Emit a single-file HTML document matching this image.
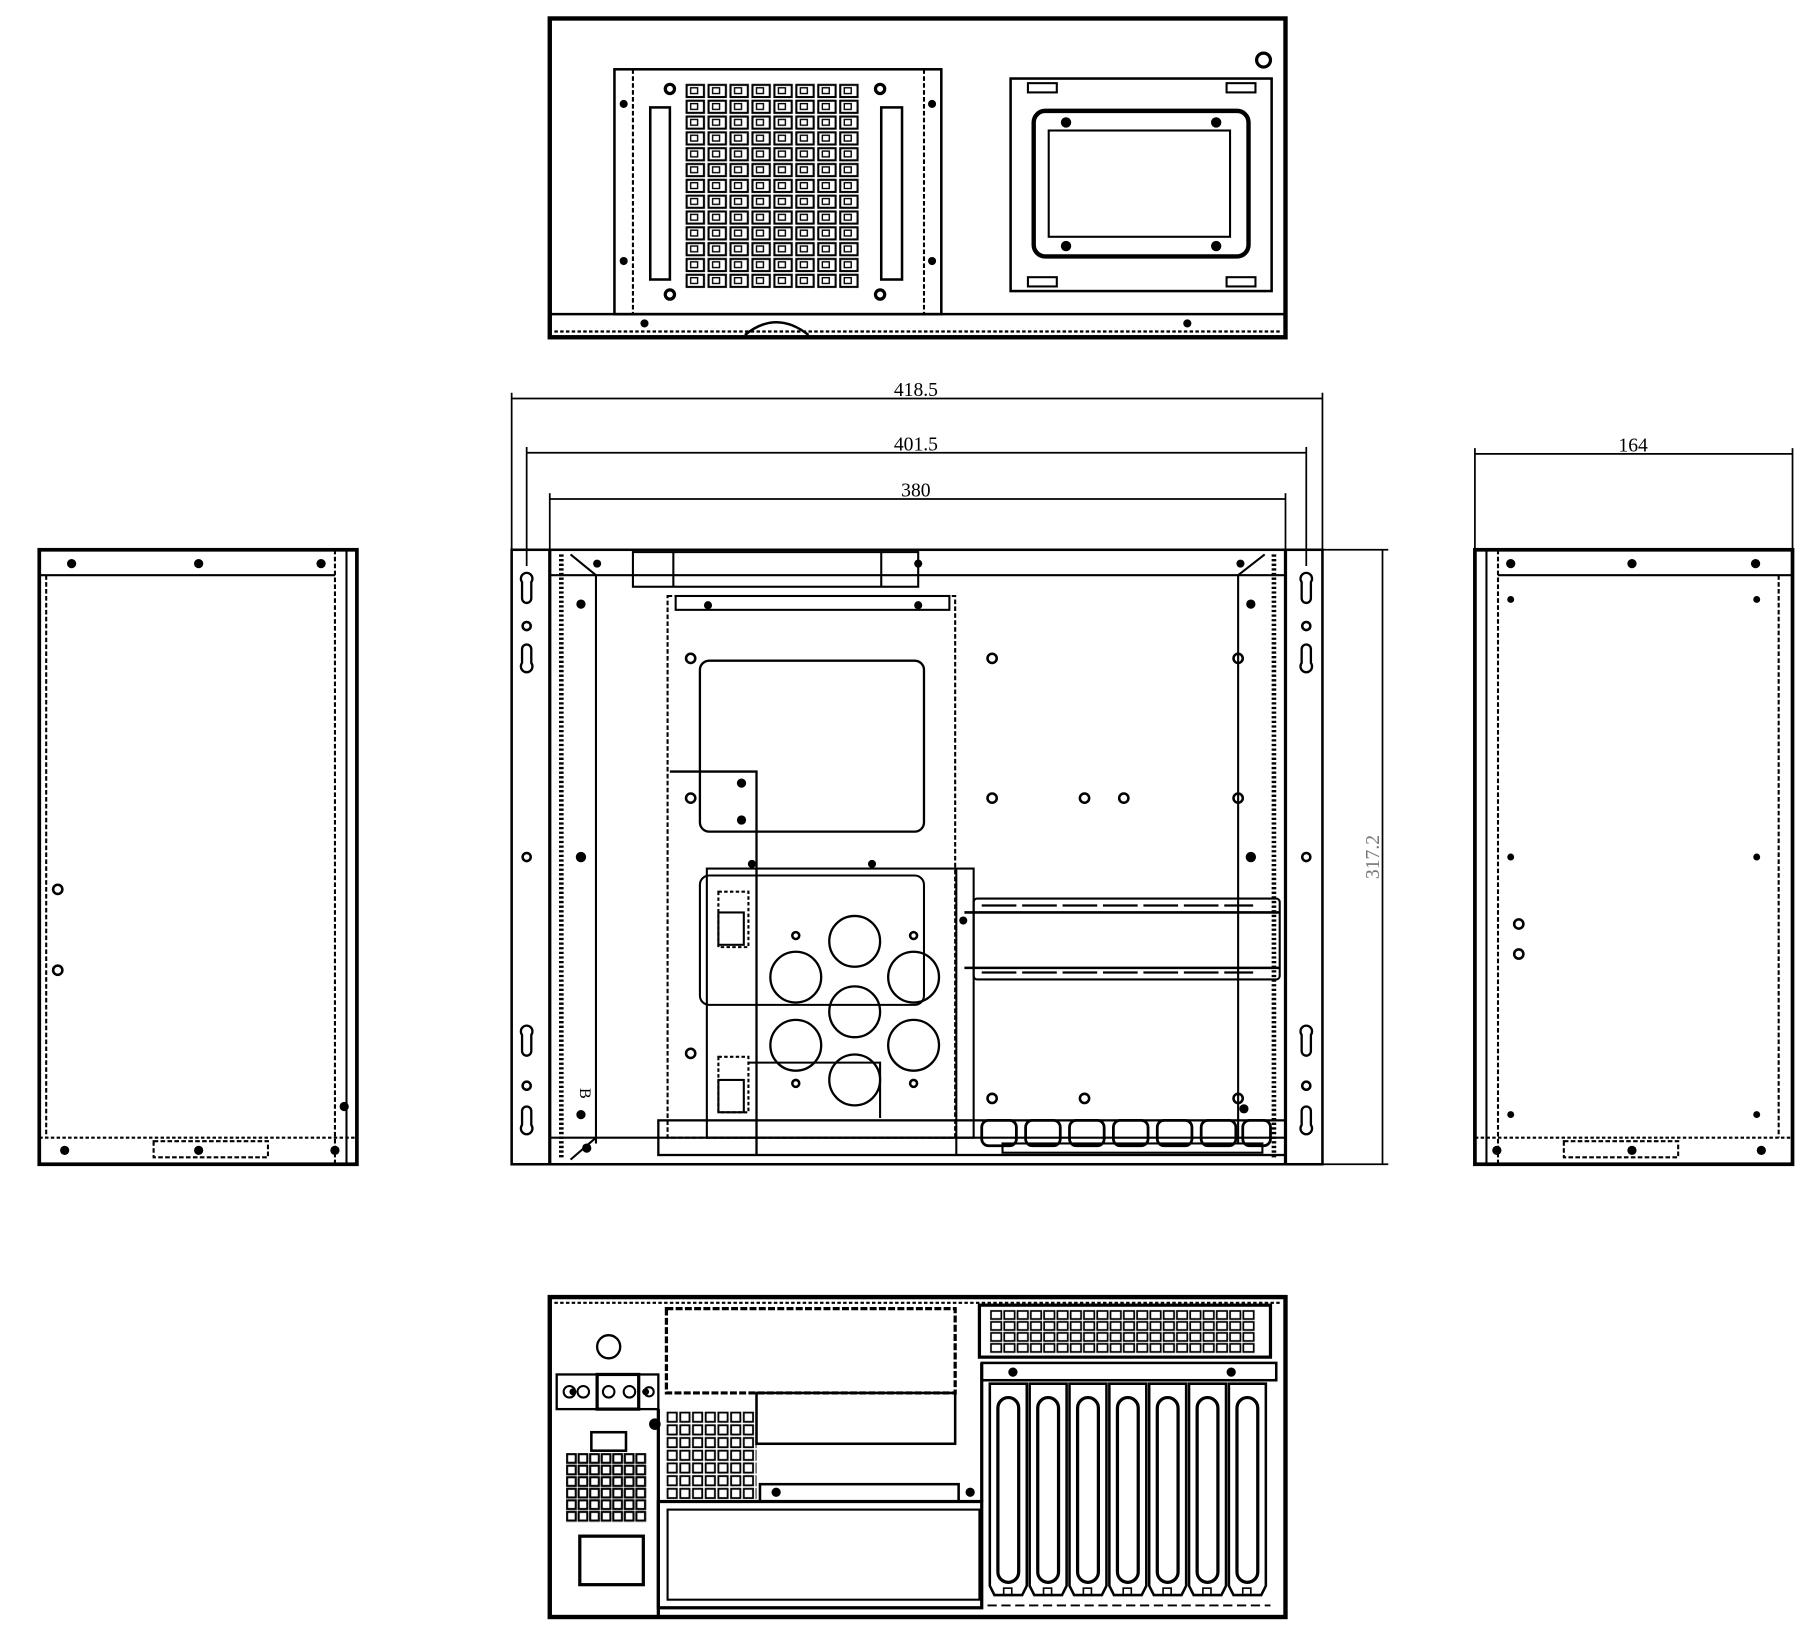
<!DOCTYPE html>
<html><head><meta charset="utf-8"><style>html,body{margin:0;padding:0;background:#fff}svg{display:block}</style></head><body>
<svg width="1811" height="1643" viewBox="0 0 1568 1422.5" preserveAspectRatio="none" xmlns="http://www.w3.org/2000/svg" font-family="Liberation Sans, sans-serif">
<defs>
<pattern id="g1" x="593" y="72" width="19" height="13.7" patternUnits="userSpaceOnUse"><rect x="1.5" y="1.5" width="15" height="10.5" fill="none" stroke="#000" stroke-width="1.8"/><rect x="5" y="4" width="6" height="5" fill="none" stroke="#000" stroke-width="1.2"/></pattern>
<pattern id="g2" x="857" y="1134" width="11.5" height="9.5" patternUnits="userSpaceOnUse"><rect x="1" y="1" width="9" height="7" fill="none" stroke="#000" stroke-width="1.5"/></pattern>
<pattern id="g3" x="490" y="1258" width="10" height="10" patternUnits="userSpaceOnUse"><rect x="1" y="1" width="7.5" height="7.5" fill="none" stroke="#000" stroke-width="1.8"/></pattern>
<pattern id="g4" x="577" y="1222" width="11" height="11" patternUnits="userSpaceOnUse"><rect x="1" y="1" width="8" height="8" fill="none" stroke="#000" stroke-width="1.6"/></pattern>
</defs>
<g fill="none" stroke="#000" stroke-width="1.8">
<!-- TOP VIEW -->
<rect x="476" y="16" width="637" height="276" stroke-width="3.8"/>
<line x1="476" y1="272" x2="1113" y2="272" stroke-width="2.2"/>
<line x1="480" y1="287" x2="1110" y2="287" stroke-dasharray="3 2" stroke-width="2"/>
<rect x="532" y="60" width="283" height="212" stroke-width="2.2"/>
<rect x="548" y="60" width="252" height="212" stroke-dasharray="4 2"/>
<rect x="593" y="72" width="152" height="178" fill="url(#g1)" stroke="none"/>
<rect x="563" y="93" width="17" height="149" stroke-width="2.2"/>
<rect x="763" y="93" width="18" height="149" stroke-width="2.2"/>
<circle cx="580" cy="77" r="4" stroke-width="2.8"/><circle cx="762" cy="77" r="4" stroke-width="2.8"/>
<circle cx="580" cy="255" r="4" stroke-width="2.8"/><circle cx="762" cy="255" r="4" stroke-width="2.8"/>
<path d="M645 290 Q672 268 700 290" stroke-width="2.2"/>
<rect x="875" y="68" width="226" height="184" stroke-width="2.2"/>
<rect x="895" y="96" width="186" height="126" rx="10" stroke-width="3.8"/>
<rect x="908" y="113" width="157" height="92" stroke-width="1.8"/>
<rect x="890" y="72" width="25" height="8"/><rect x="1062" y="72" width="25" height="8"/>
<rect x="890" y="240" width="25" height="8"/><rect x="1062" y="240" width="25" height="8"/>
<circle cx="1094" cy="52" r="6" stroke-width="2.8"/>
<!-- DIMENSIONS -->
<g stroke-width="1.5">
<line x1="443" y1="345" x2="1145" y2="345"/>
<line x1="456" y1="392" x2="1131" y2="392"/>
<line x1="476" y1="432" x2="1113" y2="432"/>
<line x1="443" y1="340" x2="443" y2="476"/><line x1="1145" y1="340" x2="1145" y2="476"/>
<line x1="456" y1="387" x2="456" y2="490"/><line x1="1131" y1="387" x2="1131" y2="490"/>
<line x1="476" y1="427" x2="476" y2="476"/><line x1="1113" y1="427" x2="1113" y2="476"/>
<line x1="1145" y1="476" x2="1202" y2="476"/><line x1="1145" y1="1008" x2="1202" y2="1008"/>
<line x1="1197" y1="476" x2="1197" y2="1008"/>
<line x1="1277" y1="393" x2="1552" y2="393"/>
<line x1="1277" y1="388" x2="1277" y2="476"/><line x1="1552" y1="388" x2="1552" y2="476"/>
</g>
<!-- FRONT VIEW -->
<rect x="443" y="476" width="702" height="532" stroke-width="2.2"/>
<line x1="476" y1="476" x2="476" y2="1008" stroke-width="2.8"/>
<line x1="1113" y1="476" x2="1113" y2="1008" stroke-width="2.8"/>
<line x1="486" y1="480" x2="486" y2="1004" stroke-width="4" stroke-dasharray="2 2"/>
<line x1="1103" y1="480" x2="1103" y2="1004" stroke-width="4" stroke-dasharray="2 2"/>
<line x1="476" y1="498" x2="1113" y2="498"/>
<line x1="516" y1="498" x2="516" y2="990"/><line x1="1072" y1="498" x2="1072" y2="990"/>
<line x1="494" y1="480" x2="516" y2="498"/><line x1="1095" y1="480" x2="1072" y2="498"/>
<line x1="494" y1="1004" x2="516" y2="985"/>
<line x1="476" y1="985" x2="1113" y2="985"/>
<rect x="548" y="478" width="247" height="30"/><line x1="583" y1="478" x2="583" y2="508"/><line x1="763" y1="478" x2="763" y2="508"/>
<rect x="578" y="516" width="249" height="469" stroke-dasharray="4 2"/>
<rect x="585" y="516" width="237" height="12"/>
<rect x="606" y="572" width="194" height="148" rx="8" stroke-width="2"/>
<path d="M580 668 H655 V1000" stroke-width="2"/>
<rect x="612" y="752" width="231" height="233"/>
<rect x="606" y="758" width="194" height="112" rx="8"/>
<line x1="828" y1="752" x2="828" y2="1000"/>
<g stroke-width="2">
<circle cx="740" cy="815" r="22"/><circle cx="689" cy="846" r="22"/><circle cx="791" cy="846" r="22"/>
<circle cx="740" cy="876" r="22"/><circle cx="689" cy="905" r="22"/><circle cx="791" cy="905" r="22"/><circle cx="740" cy="935" r="22"/>
</g>
<rect x="622" y="772" width="26" height="48" stroke-dasharray="3 2"/><rect x="622" y="790" width="22" height="28"/>
<rect x="622" y="915" width="26" height="48" stroke-dasharray="3 2"/><rect x="622" y="935" width="22" height="28"/>
<path d="M648 920 H762 V968"/>
<rect x="843" y="778" width="265" height="70" rx="3"/>
<line x1="835" y1="790" x2="1108" y2="790" stroke-width="2.2"/><line x1="835" y1="838" x2="1108" y2="838" stroke-width="2.2"/>
<g stroke-width="2"><path d="M850 784h30M885 784h30M920 784h30M955 784h30M990 784h30M1025 784h30M1060 784h25"/><path d="M850 842h30M885 842h30M920 842h30M955 842h30M990 842h30M1025 842h30M1060 842h25"/></g>
<rect x="570" y="970" width="543" height="30" stroke-width="2"/>
<g stroke-width="2.4"><rect x="850" y="970" width="30" height="22" rx="6"/><rect x="888" y="970" width="30" height="22" rx="6"/><rect x="926" y="970" width="30" height="22" rx="6"/><rect x="964" y="970" width="30" height="22" rx="6"/><rect x="1002" y="970" width="30" height="22" rx="6"/><rect x="1040" y="970" width="30" height="22" rx="6"/><rect x="1076" y="970" width="24" height="22" rx="6"/></g>
<rect x="868" y="990" width="225" height="8"/>
<g stroke-width="2">
<path d="M452 504 a5 5 0 1 1 8 0 v14 a4 4 0 0 1 -8 0 z"/><path d="M452 562 a4 4 0 0 1 8 0 v12 a5 5 0 1 1 -8 0 z"/>
<path d="M452 896 a5 5 0 1 1 8 0 v14 a4 4 0 0 1 -8 0 z"/><path d="M452 962 a4 4 0 0 1 8 0 v12 a5 5 0 1 1 -8 0 z"/>
<path d="M1127 504 a5 5 0 1 1 8 0 v14 a4 4 0 0 1 -8 0 z"/><path d="M1127 562 a4 4 0 0 1 8 0 v12 a5 5 0 1 1 -8 0 z"/>
<path d="M1127 896 a5 5 0 1 1 8 0 v14 a4 4 0 0 1 -8 0 z"/><path d="M1127 962 a4 4 0 0 1 8 0 v12 a5 5 0 1 1 -8 0 z"/>
</g>
<g stroke-width="2.2">
<circle cx="456" cy="542" r="3.5"/><circle cx="456" cy="742" r="3.5"/><circle cx="456" cy="940" r="3.5"/>
<circle cx="1131" cy="542" r="3.5"/><circle cx="1131" cy="742" r="3.5"/><circle cx="1131" cy="940" r="3.5"/>
<circle cx="598" cy="570" r="4"/><circle cx="598" cy="691" r="4"/><circle cx="859" cy="570" r="4"/><circle cx="859" cy="691" r="4"/>
<circle cx="939" cy="691" r="4"/><circle cx="973" cy="691" r="4"/><circle cx="1072" cy="570" r="4"/><circle cx="1072" cy="691" r="4"/>
<circle cx="598" cy="912" r="4"/><circle cx="859" cy="951" r="4"/><circle cx="939" cy="951" r="4"/><circle cx="1072" cy="951" r="4"/>
<circle cx="689" cy="810" r="3"/><circle cx="791" cy="810" r="3"/><circle cx="689" cy="938" r="3"/><circle cx="791" cy="938" r="3"/>
</g>
</g>
<g fill="#000">
<circle cx="503" cy="742" r="4.5"/><circle cx="1083" cy="742" r="4.5"/><circle cx="517" cy="488" r="3.5"/><circle cx="795" cy="488" r="3.5"/><circle cx="1074" cy="488" r="3.5"/>
<circle cx="503" cy="523" r="4"/><circle cx="1083" cy="523" r="4"/><circle cx="613" cy="524" r="3.5"/><circle cx="795" cy="524" r="3.5"/>
<circle cx="642" cy="678" r="4"/><circle cx="642" cy="710" r="4"/><circle cx="651" cy="748" r="3.5"/><circle cx="755" cy="748" r="3.5"/>
<circle cx="834" cy="797" r="3.5"/><circle cx="503" cy="965" r="4"/><circle cx="1077" cy="960" r="4"/><circle cx="508" cy="994" r="4"/>
<circle cx="540" cy="90" r="3.5"/><circle cx="807" cy="90" r="3.5"/><circle cx="540" cy="226" r="3.5"/><circle cx="807" cy="226" r="3.5"/>
<circle cx="923" cy="106" r="4.5"/><circle cx="1053" cy="106" r="4.5"/><circle cx="923" cy="213" r="4.5"/><circle cx="1053" cy="213" r="4.5"/>
<circle cx="558" cy="280" r="3.5"/><circle cx="1028" cy="280" r="3.5"/>
</g>
<g font-size="17" fill="#000" font-family="Liberation Serif, serif">
<text x="793" y="343" text-anchor="middle">418.5</text>
<text x="793" y="390" text-anchor="middle">401.5</text>
<text x="793" y="430" text-anchor="middle">380</text>
<text x="1414" y="391" text-anchor="middle">164</text>
<text transform="translate(1194 742) rotate(-90)" text-anchor="middle" fill="#777">317.2</text>
<text transform="translate(502 942) rotate(90)" font-size="14">B</text>
</g>
<!-- LEFT VIEW -->
<g fill="none" stroke="#000" stroke-width="1.8">
<rect x="34" y="476" width="275" height="532" stroke-width="3.2"/>
<line x1="34" y1="498" x2="290" y2="498"/><line x1="34" y1="985" x2="309" y2="985" stroke-dasharray="3 2"/>
<line x1="290" y1="476" x2="290" y2="1008" stroke-dasharray="4 2"/><line x1="300" y1="476" x2="300" y2="1008"/>
<line x1="40" y1="498" x2="40" y2="985" stroke-dasharray="4 2"/>
<rect x="133" y="988" width="99" height="14" stroke-dasharray="4 2"/>
<circle cx="50" cy="770" r="4" stroke-width="2.2"/><circle cx="50" cy="840" r="4" stroke-width="2.2"/>
<!-- RIGHT VIEW -->
<rect x="1277" y="476" width="275" height="532" stroke-width="3.2"/>
<line x1="1297" y1="498" x2="1552" y2="498"/><line x1="1277" y1="985" x2="1552" y2="985" stroke-dasharray="3 2"/>
<line x1="1297" y1="476" x2="1297" y2="1008" stroke-dasharray="4 2"/><line x1="1287" y1="476" x2="1287" y2="1008"/>
<line x1="1540" y1="498" x2="1540" y2="985" stroke-dasharray="4 2"/>
<rect x="1354" y="988" width="99" height="14" stroke-dasharray="4 2"/>
<circle cx="1315" cy="800" r="4" stroke-width="2.2"/><circle cx="1315" cy="826" r="4" stroke-width="2.2"/>
</g>
<g fill="#000">
<circle cx="62" cy="488" r="4"/><circle cx="172" cy="488" r="4"/><circle cx="278" cy="488" r="4"/>
<circle cx="56" cy="996" r="4"/><circle cx="172" cy="996" r="4"/><circle cx="290" cy="996" r="4"/><circle cx="298" cy="958" r="4"/>
<circle cx="1308" cy="488" r="4"/><circle cx="1413" cy="488" r="4"/><circle cx="1520" cy="488" r="4"/>
<circle cx="1296" cy="996" r="4"/><circle cx="1413" cy="996" r="4"/><circle cx="1525" cy="996" r="4"/>
<circle cx="1308" cy="519" r="3"/><circle cx="1521" cy="519" r="3"/><circle cx="1308" cy="742" r="3"/><circle cx="1521" cy="742" r="3"/><circle cx="1308" cy="965" r="3"/><circle cx="1521" cy="965" r="3"/>
</g>
<!-- BOTTOM VIEW -->
<g fill="none" stroke="#000" stroke-width="1.8">
<rect x="476" y="1123" width="637" height="277" stroke-width="3.8"/>
<line x1="480" y1="1128" x2="1108" y2="1128" stroke-dasharray="3 2"/>
<circle cx="527" cy="1166" r="10" stroke-width="2"/>
<rect x="482" y="1190" width="88" height="30" stroke-width="2"/><rect x="517" y="1190" width="36" height="30" stroke-width="2.8"/>
<circle cx="493" cy="1205" r="5"/><circle cx="505" cy="1205" r="5"/><circle cx="527" cy="1205" r="5"/><circle cx="545" cy="1205" r="5"/><circle cx="562" cy="1205" r="4"/>
<rect x="512" y="1240" width="30" height="16" stroke-width="2.2"/>
<rect x="490" y="1258" width="70" height="60" fill="url(#g3)" stroke="none"/>
<rect x="502" y="1330" width="55" height="42" stroke-width="2.8"/>
<rect x="577" y="1133" width="250" height="73" stroke-width="2.8" stroke-dasharray="6 2"/>
<rect x="576" y="1222" width="79" height="76" fill="url(#g4)" stroke="none"/>
<line x1="570" y1="1220" x2="570" y2="1400" stroke-width="2.8"/>
<rect x="655" y="1206" width="172" height="44" stroke-width="2.2"/>
<rect x="658" y="1285" width="172" height="15" stroke-width="2.2"/>
<rect x="570" y="1300" width="280" height="92" stroke-width="2.8"/>
<rect x="578" y="1307" width="270" height="78" stroke-width="1.8"/>
<line x1="850" y1="1180" x2="850" y2="1300" stroke-width="2.8"/>
<rect x="848" y="1130" width="252" height="45" stroke-width="2.8"/>
<rect x="857" y="1134" width="230" height="38" fill="url(#g2)" stroke="none"/>
<rect x="850" y="1180" width="255" height="15" stroke-width="2.2"/>
</g>
<g fill="#000"><circle cx="877" cy="1188" r="4"/><circle cx="1066" cy="1188" r="4"/><circle cx="672" cy="1292" r="4"/><circle cx="840" cy="1292" r="4"/><circle cx="567" cy="1233" r="5"/><circle cx="496" cy="1205" r="3"/><circle cx="559" cy="1205" r="3"/></g>
<g fill="none" stroke="#000" stroke-width="2.2">
<g id="sl"><path d="M857 1198 h32 v175 l-4 8 h-24 l-4 -8 z"/><rect x="864" y="1210" width="18" height="160" rx="9" stroke-width="2.8"/><rect x="869" y="1375" width="7" height="6" stroke-width="1.4"/></g>
<use href="#sl" x="34.5"/><use href="#sl" x="69"/><use href="#sl" x="103.5"/><use href="#sl" x="138"/><use href="#sl" x="172.5"/><use href="#sl" x="207"/>
<line x1="855" y1="1390" x2="1100" y2="1390" stroke-width="1.6" stroke-dasharray="8 4"/>
</g>
</svg>
</body></html>
